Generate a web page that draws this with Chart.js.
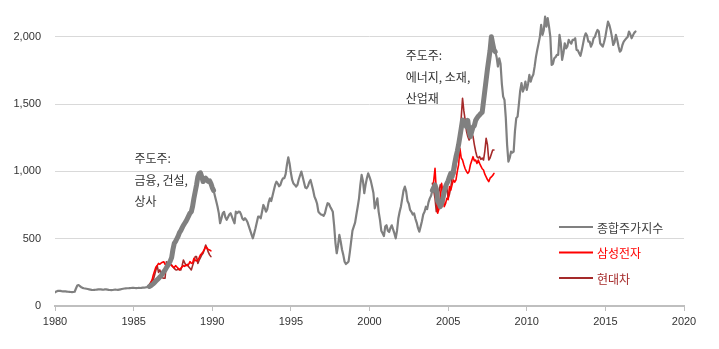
<!DOCTYPE html>
<html>
<head>
<meta charset="utf-8">
<script src="https://cdn.jsdelivr.net/npm/chart.js@4.4.0/dist/chart.umd.min.js"></script>
<style>
  html, body { margin: 0; padding: 0; background: #fff; }
</style>
</head>
<body>
<canvas id="kospi_chart" width="719" height="349"></canvas>
<script>
// monthly values, first value = January of the start year
const kospiStart = 1980;
const kospi = [
  102, 108, 112, 113, 112, 110, 109, 108, 108, 107, 106, 105, // 1980
  104, 103, 104, 106, 130, 152, 156, 148, 140, 135, 132, 130, // 1981
  128, 126, 124, 122, 120, 119, 120, 121, 122, 123, 124, 123, // 1982
  122, 121, 123, 124, 122, 120, 119, 118, 119, 121, 122, 121, // 1983
  120, 122, 124, 126, 128, 130, 131, 132, 132, 133, 134, 135, // 1984
  135, 134, 133, 134, 135, 134, 135, 136, 137, 138, 140, 143, // 1985
  145, 150, 158, 165, 175, 185, 195, 205, 215, 225, 240, 255, // 1986
  268, 285, 300, 318, 335, 360, 420, 465, 480, 500, 520, 545, // 1987
  560, 580, 600, 615, 630, 650, 670, 690, 700, 740, 800, 850, // 1988
  900, 960, 985, 990, 960, 925, 940, 950, 935, 925, 930, 910, // 1989
  880, 860, 820, 780, 740, 690, 615, 650, 690, 700, 660, 640, // 1990
  660, 680, 690, 664, 639, 615, 701, 690, 701, 700, 680, 650, // 1991
  639, 652, 640, 620, 590, 560, 530, 503, 540, 578, 620, 664, // 1992
  664, 652, 700, 751, 730, 701, 720, 770, 800, 780, 820, 860, // 1993
  900, 924, 910, 890, 900, 930, 949, 950, 980, 1050, 1105, 1060, // 1994
  990, 937, 910, 900, 887, 900, 940, 970, 999, 960, 920, 880, // 1995
  875, 890, 920, 937, 900, 860, 813, 790, 760, 701, 690, 680, // 1996
  677, 670, 690, 730, 764, 760, 738, 720, 700, 600, 470, 392, // 1997
  450, 528, 480, 420, 380, 329, 312, 320, 330, 400, 480, 560, // 1998
  590, 620, 680, 738, 800, 900, 974, 930, 838, 900, 950, 986, // 1999
  960, 930, 887, 840, 726, 760, 800, 700, 640, 560, 541, 520, // 2000
  590, 600, 560, 550, 580, 600, 570, 540, 503, 560, 650, 700, // 2001
  740, 800, 860, 887, 850, 780, 760, 714, 700, 680, 689, 650, // 2002
  620, 580, 552, 590, 630, 680, 700, 738, 720, 770, 800, 820, // 2003
  860, 880, 900, 870, 780, 764, 738, 760, 800, 850, 887, 910, // 2004
  930, 960, 986, 960, 1000, 1060, 1110, 1150, 1200, 1259, 1320, 1383, // 2005
  1370, 1350, 1333, 1380, 1300, 1260, 1296, 1330, 1340, 1380, 1396, 1410, // 2006
  1420, 1432, 1440, 1520, 1600, 1680, 1760, 1829, 1900, 2002, 1950, 1903, // 2007
  1890, 1850, 1780, 1841, 1800, 1650, 1556, 1532, 1400, 1200, 1073, 1100, // 2008
  1147, 1140, 1147, 1300, 1396, 1408, 1500, 1600, 1656, 1594, 1620, 1668, // 2009
  1606, 1650, 1718, 1668, 1700, 1720, 1779, 1850, 1903, 1950, 2000, 2089, // 2010
  2015, 2050, 2151, 2077, 2139, 2077, 2000, 1792, 1800, 1841, 1850, 1866, // 2011
  1866, 2015, 1953, 1829, 1880, 1953, 1915, 1930, 1978, 1960, 1950, 1978, // 2012
  1978, 1990, 1903, 1900, 1879, 1860, 1900, 1950, 2000, 2027, 2010, 1965, // 2013
  1965, 1928, 1950, 1990, 2000, 2030, 2052, 2040, 1953, 1940, 1928, 1960, // 2014
  2002, 2060, 2114, 2090, 2052, 2000, 1940, 1960, 2015, 1980, 1930, 1891, // 2015
  1900, 1940, 1965, 1978, 1990, 2000, 2040, 2020, 1990, 2010, 2030, 2040  // 2016
];

// leader periods (thick gray) and the two stocks rebased to the index
const leaderPeriods = [[1986, 1990.05], [2004, 2007.95]];

const firstPeriodStart = 1986;
const samsung86 = [
  143, 160, 190, 230, 260, 290, 300, 317, 310, 320, 325, 329,
  310, 300, 292, 329, 310, 300, 292, 285, 300, 290, 280, 270,
  280, 290, 300, 295, 305, 300, 310, 330, 317, 320, 354, 340,
  335, 342, 360, 380, 390, 404, 420, 441, 430, 420, 416, 410
];
const hyundai86 = [
  160, 175, 193, 193, 230, 268, 300, 250, 268, 240, 210, 206,
  206, 329, 300, 317, 310, 305, 290, 280, 270, 268, 275, 268,
  268, 300, 342, 320, 300, 310, 292, 280, 268, 300, 330, 367,
  367, 317, 340, 360, 380, 392, 420, 453, 430, 400, 380, 367
];

const secondPeriodStart = 2004;
const samsung04 = [
  850, 930, 1024, 850, 689, 720, 800, 912, 850, 738, 760, 800,
  790, 887, 860, 900, 937, 920, 937, 1000, 1050, 1172, 1100, 1085,
  1050, 1020, 1000, 986, 1000, 1050, 1080, 1110, 1080, 1085, 1060, 1085,
  1060, 1040, 1020, 1011, 980, 960, 940, 924, 950, 960, 970, 986
];
const hyundai04 = [
  912, 860, 800, 701, 760, 850, 900, 880, 820, 800, 850, 880,
  800, 830, 880, 950, 1011, 980, 1050, 1100, 1160, 1250, 1400, 1544,
  1450, 1383, 1300, 1260, 1234, 1250, 1284, 1260, 1200, 1150, 1110, 1100,
  1110, 1090, 1100, 1085, 1150, 1247, 1200, 1085, 1100, 1130, 1160, 1160
];

const yearTicks = [1980, 1985, 1990, 1995, 2000, 2005, 2010, 2015, 2020];
const valueTicks = [0, 500, 1000, 1500, 2000];

const notes = [
  { x: 1985.05, y: 1095, lines: ["주도주:", "금융, 건설,", "상사"] },
  { x: 2002.3, y: 1860, lines: ["주도주:", "에너지, 소재,", "산업재"] }
];

function monthly(start, values) {
  return values.map((v, i) => ({ x: start + i / 12, y: v }));
}

function twoPeriods(a, b) {
  // null point keeps the two periods apart
  return monthly(firstPeriodStart, a)
    .concat([{ x: 1997, y: null }])
    .concat(monthly(secondPeriodStart, b));
}

function inLeaderPeriod(x) {
  return leaderPeriods.some(p => x >= p[0] && x < p[1]);
}

const tickFont = { family: "'Liberation Sans', Arial, sans-serif", size: 11 };
const krFont = "12px 'Noto Sans CJK KR', sans-serif";

// notes and legend are drawn inside the plot
const overlayPlugin = {
  id: "overlay",
  afterDraw(chart) {
    const ctx = chart.ctx;
    const xs = chart.scales.x;
    const ys = chart.scales.y;
    ctx.save();
    ctx.font = krFont;
    ctx.textBaseline = "middle";
    ctx.textAlign = "left";

    notes.forEach(n => {
      const left = xs.getPixelForValue(n.x);
      const top = ys.getPixelForValue(n.y);
      ctx.fillStyle = "#333333";
      n.lines.forEach((line, i) => ctx.fillText(line, left, top + i * 21.5));
    });

    const legendX = 559;
    let legendY = 227;
    chart.data.datasets.forEach(ds => {
      ctx.strokeStyle = ds.borderColor;
      ctx.lineWidth = 2;
      ctx.beginPath();
      ctx.moveTo(legendX, legendY);
      ctx.lineTo(legendX + 34, legendY);
      ctx.stroke();
      ctx.fillStyle = ds.legendTextColor;
      ctx.fillText(ds.label, legendX + 38, legendY + 1);
      legendY += 25.5;
    });
    ctx.restore();
  }
};

const chart = new Chart(document.getElementById("kospi_chart"), {
  type: "line",
  data: {
    datasets: [
      {
        label: "종합주가지수",
        data: monthly(kospiStart, kospi),
        borderColor: "#808080",
        legendTextColor: "#404040",
        borderWidth: 2.2,
        segment: {
          borderWidth: c => inLeaderPeriod(c.p0.parsed.x) ? 5 : 2.2
        }
      },
      {
        label: "삼성전자",
        data: twoPeriods(samsung86, samsung04),
        borderColor: "#ff0000",
        legendTextColor: "#ff0000",
        borderWidth: 1.6
      },
      {
        label: "현대차",
        data: twoPeriods(hyundai86, hyundai04),
        borderColor: "#a52a2a",
        legendTextColor: "#a52a2a",
        borderWidth: 1.6
      }
    ]
  },
  options: {
    responsive: false,
    animation: false,
    devicePixelRatio: 1,
    spanGaps: false,
    elements: {
      point: { radius: 0 },
      line: { tension: 0, borderJoinStyle: "round", borderCapStyle: "round" }
    },
    layout: { autoPadding: false, padding: { top: 10, right: 35, left: 0, bottom: 0 } },
    plugins: {
      legend: { display: false },
      tooltip: { enabled: false }
    },
    scales: {
      x: {
        type: "linear",
        min: 1980,
        max: 2020,
        afterBuildTicks: s => { s.ticks = yearTicks.map(v => ({ value: v })); },
        afterFit: s => { s.height = 43; },
        ticks: {
          color: "#333333",
          font: tickFont,
          padding: 4,
          maxRotation: 0,
          callback: v => String(v)
        },
        grid: {
          drawOnChartArea: false,
          drawTicks: true,
          tickLength: 5,
          color: "#bfbfbf",
          lineWidth: 1
        },
        border: { display: true, color: "#bfbfbf", width: 2 }
      },
      y: {
        min: 0,
        max: 2200,
        afterBuildTicks: s => { s.ticks = valueTicks.map(v => ({ value: v })); },
        afterFit: s => { s.width = 55; s.paddingTop = 0; s.paddingBottom = 0; },
        ticks: {
          color: "#333333",
          font: tickFont,
          padding: 14,
          callback: v => v.toLocaleString("en-US")
        },
        grid: {
          color: c => c.tick && c.tick.value === 0 ? "rgba(0,0,0,0)" : "#d9d9d9",
          lineWidth: 1,
          drawTicks: false
        },
        border: { display: false }
      }
    }
  },
  plugins: [overlayPlugin]
});
</script>
</body>
</html>
